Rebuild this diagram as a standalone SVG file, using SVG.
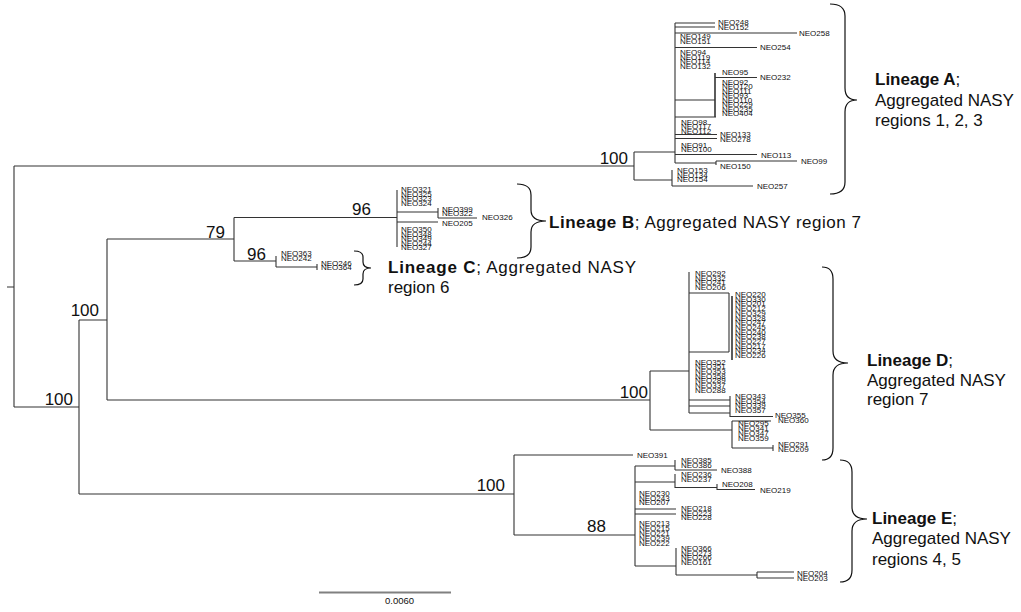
<svg xmlns="http://www.w3.org/2000/svg" width="1021" height="612" viewBox="0 0 1021 612">
<style>
.br{fill:none;stroke:#333;stroke-width:1.1}
.tk{fill:none;stroke:#333;stroke-width:1.6}
.brace{fill:none;stroke:#111;stroke-width:1.2}
.t{font-family:"Liberation Sans",Arial,sans-serif;font-size:8px;fill:#111}
.bs{font-family:"Liberation Sans",Arial,sans-serif;font-size:17px;fill:#111;text-anchor:end}
.lin{font-family:"Liberation Sans",Arial,sans-serif;font-size:17px;fill:#111}
.b{font-weight:bold}
</style>
<rect width="1021" height="612" fill="#fff"/>
<g id="connectors">
<path class="br" d="M7,287H14M14,166V407M14,166H634M14,407H79"/>
<path class="br" d="M634,152V180M634,152H675M675,23V163M675,23H715M675,27H715M675,33H797M675,47.5H757M675,100H715M715,77.5H757M675,117H716M675,134.5H717M675,138.5H717M675,154.5H757M675,163H716M716,161V165M716,161H797M634,180H672M672,170V186M672,186H753"/>
<path class="tk" d="M715,73V117"/>
<path class="br" d="M79,320V494M79,320H107M107,239V400M107,239H234M234,217.5V261M234,217.5H397M397,190V247M397,212H438M438,208V218M438,218H477M397,222H438M234,261H276M276,256V267M276,267H317M317,264V270"/>
<path class="br" d="M107,400H650M650,371V430M650,371H689M689,272V413M689,293H729M689,352H729M729,293V352M689,400H730M689,406H730M689,413H730M730,396V417M730,416.5H773M650,430H732M732,421V448M732,421H771M732,448H773M773,445V451"/>
<path class="tk" d="M732,296V360"/>
<path class="br" d="M79,494H514M514,455V535M514,455H633M514,535H635M635,466V566M635,466H675M675,460V470M675,470H717M635,482H675M675,474V488M675,487.5H717M717,484V490M717,489.5H755M635,509H676M635,514H676M635,566H676M676,548V575M676,575H757M757,572V578M757,572H794M757,578H794"/>
</g>
<g id="braces">
<path class="brace" d="M830,4Q845,4 845,16V88Q845,100 857,100Q845,100 845,112V182Q845,194 830,194"/>
<path class="brace" d="M517,184Q531,184 531,195V210Q531,221 546,221Q531,221 531,232V247Q531,258 517,258"/>
<path class="brace" d="M354,251Q363,251 363,257V262Q363,268 371,268Q363,268 363,274V279Q363,285 354,285"/>
<path class="brace" d="M822,267Q833,267 833,279V351Q833,363 848,363Q833,363 833,375V448Q833,460 822,460"/>
<path class="brace" d="M840,460Q852,460 852,472V507Q852,519 867,519Q852,519 852,531V570Q852,582 840,582"/>
</g>
<g id="bootstrap">
<text class="bs" x="628" y="164">100</text>
<text class="bs" x="371" y="215">96</text>
<text class="bs" x="225" y="237.5">79</text>
<text class="bs" x="266" y="260">96</text>
<text class="bs" x="99" y="316">100</text>
<text class="bs" x="73" y="405">100</text>
<text class="bs" x="648" y="398">100</text>
<text class="bs" x="505" y="491">100</text>
<text class="bs" x="606" y="532">88</text>
</g>
<g id="lineage-A">
<text class="t" x="718" y="25">NEO248</text>
<text class="t" x="718" y="29.5">NEO152</text>
<text class="t" x="799" y="35.5">NEO258</text>
<text class="t" x="680" y="39">NEO149</text>
<text class="t" x="680" y="43.5">NEO151</text>
<text class="t" x="760" y="50">NEO254</text>
<text class="t" x="680" y="55">NEO94</text>
<text class="t" x="680" y="59.5">NEO119</text>
<text class="t" x="680" y="64">NEO114</text>
<text class="t" x="680" y="68.5">NEO132</text>
<text class="t" x="722" y="75">NEO95</text>
<text class="t" x="760" y="80">NEO232</text>
<text class="t" x="722" y="84.5">NEO92</text>
<text class="t" x="722" y="89">NEO120</text>
<text class="t" x="722" y="93.5">NEO111</text>
<text class="t" x="722" y="98">NEO93</text>
<text class="t" x="722" y="102.5">NEO110</text>
<text class="t" x="722" y="107">NEO229</text>
<text class="t" x="722" y="111.5">NEO235</text>
<text class="t" x="722" y="116">NEO404</text>
<text class="t" x="681" y="124.5">NEO98</text>
<text class="t" x="681" y="129">NEO117</text>
<text class="t" x="681" y="133.5">NEO112</text>
<text class="t" x="720" y="137">NEO133</text>
<text class="t" x="720" y="141.5">NEO278</text>
<text class="t" x="681" y="147.5">NEO91</text>
<text class="t" x="681" y="152">NEO100</text>
<text class="t" x="761" y="157.5">NEO113</text>
<text class="t" x="801" y="164">NEO99</text>
<text class="t" x="720" y="169">NEO150</text>
<text class="t" x="677" y="173">NEO153</text>
<text class="t" x="677" y="177.5">NEO134</text>
<text class="t" x="677" y="182">NEO154</text>
<text class="t" x="757" y="189">NEO257</text>
<text class="lin" x="875" y="85"><tspan class="b">Lineage A</tspan>;</text>
<text class="lin" x="875" y="105.5">Aggregated NASY</text>
<text class="lin" x="875" y="126">regions 1, 2, 3</text>
</g>
<g id="lineage-B">
<text class="t" x="401" y="192">NEO321</text>
<text class="t" x="401" y="196.5">NEO325</text>
<text class="t" x="401" y="201">NEO323</text>
<text class="t" x="401" y="205.5">NEO324</text>
<text class="t" x="442" y="211.5">NEO399</text>
<text class="t" x="442" y="216">NEO322</text>
<text class="t" x="482" y="220">NEO326</text>
<text class="t" x="442" y="226">NEO205</text>
<text class="t" x="401" y="232">NEO350</text>
<text class="t" x="401" y="236.5">NEO348</text>
<text class="t" x="401" y="241">NEO349</text>
<text class="t" x="401" y="245.5">NEO244</text>
<text class="t" x="401" y="250">NEO327</text>
<text class="lin" x="549" y="228" textLength="312" lengthAdjust="spacing"><tspan class="b">Lineage B</tspan>; Aggregated NASY region 7</text>
</g>
<g id="lineage-C">
<text class="t" x="281" y="256">NEO363</text>
<text class="t" x="281" y="260.5">NEO242</text>
<text class="t" x="321" y="265.5">NEO246</text>
<text class="t" x="321" y="270">NEO364</text>
<text class="lin" x="388" y="273" textLength="248" lengthAdjust="spacing"><tspan class="b">Lineage C</tspan>; Aggregated NASY</text>
<text class="lin" x="388" y="293">region 6</text>
</g>
<g id="lineage-D">
<text class="t" x="695" y="276">NEO292</text>
<text class="t" x="695" y="280.5">NEO332</text>
<text class="t" x="695" y="285">NEO241</text>
<text class="t" x="695" y="289.5">NEO206</text>
<text class="t" x="735" y="297">NEO220</text>
<text class="t" x="735" y="301.7">NEO330</text>
<text class="t" x="735" y="306.4">NEO201</text>
<text class="t" x="735" y="311.1">NEO212</text>
<text class="t" x="735" y="315.8">NEO329</text>
<text class="t" x="735" y="320.5">NEO328</text>
<text class="t" x="735" y="325.2">NEO247</text>
<text class="t" x="735" y="329.9">NEO245</text>
<text class="t" x="735" y="334.6">NEO240</text>
<text class="t" x="735" y="339.3">NEO238</text>
<text class="t" x="735" y="344">NEO227</text>
<text class="t" x="735" y="348.7">NEO217</text>
<text class="t" x="735" y="353.4">NEO234</text>
<text class="t" x="735" y="358.1">NEO226</text>
<text class="t" x="695" y="364.5">NEO352</text>
<text class="t" x="695" y="369.2">NEO351</text>
<text class="t" x="695" y="373.9">NEO353</text>
<text class="t" x="695" y="378.6">NEO358</text>
<text class="t" x="695" y="383.3">NEO289</text>
<text class="t" x="695" y="388">NEO337</text>
<text class="t" x="695" y="392.7">NEO288</text>
<text class="t" x="735" y="399">NEO343</text>
<text class="t" x="735" y="403.5">NEO354</text>
<text class="t" x="735" y="408">NEO339</text>
<text class="t" x="735" y="412.5">NEO357</text>
<text class="t" x="775" y="418">NEO355</text>
<text class="t" x="778" y="422.5">NEO360</text>
<text class="t" x="738" y="426">NEO295</text>
<text class="t" x="738" y="431">NEO341</text>
<text class="t" x="738" y="436">NEO347</text>
<text class="t" x="738" y="441">NEO359</text>
<text class="t" x="778" y="447">NEO291</text>
<text class="t" x="778" y="451.5">NEO209</text>
<text class="lin" x="867" y="366"><tspan class="b">Lineage D</tspan>;</text>
<text class="lin" x="867" y="385.5">Aggregated NASY</text>
<text class="lin" x="867" y="405">region 7</text>
</g>
<g id="lineage-E">
<text class="t" x="637" y="458">NEO391</text>
<text class="t" x="681" y="463">NEO385</text>
<text class="t" x="681" y="467.5">NEO386</text>
<text class="t" x="721" y="473">NEO388</text>
<text class="t" x="681" y="477">NEO236</text>
<text class="t" x="681" y="481.5">NEO237</text>
<text class="t" x="722" y="487">NEO208</text>
<text class="t" x="760" y="493">NEO219</text>
<text class="t" x="639" y="496">NEO230</text>
<text class="t" x="639" y="500.5">NEO243</text>
<text class="t" x="639" y="505">NEO207</text>
<text class="t" x="681" y="511">NEO218</text>
<text class="t" x="681" y="515.5">NEO223</text>
<text class="t" x="681" y="520">NEO228</text>
<text class="t" x="639" y="526">NEO213</text>
<text class="t" x="639" y="531">NEO215</text>
<text class="t" x="639" y="536">NEO221</text>
<text class="t" x="639" y="541">NEO239</text>
<text class="t" x="639" y="546">NEO222</text>
<text class="t" x="681" y="551">NEO366</text>
<text class="t" x="681" y="555.5">NEO273</text>
<text class="t" x="681" y="560">NEO266</text>
<text class="t" x="681" y="564.5">NEO161</text>
<text class="t" x="797" y="575.5">NEO204</text>
<text class="t" x="797" y="581">NEO203</text>
<text class="lin" x="872" y="523.5"><tspan class="b">Lineage E</tspan>;</text>
<text class="lin" x="872" y="544">Aggregated NASY</text>
<text class="lin" x="872" y="564.5">regions 4, 5</text>
</g>
<g id="scale-bar">
<path d="M319,592.5H451" stroke="#808080" stroke-width="2" fill="none"/>
<text x="385" y="604" font-family="Liberation Sans, Arial, sans-serif" font-size="9.5" fill="#111">0.0060</text>
</g>
</svg>
